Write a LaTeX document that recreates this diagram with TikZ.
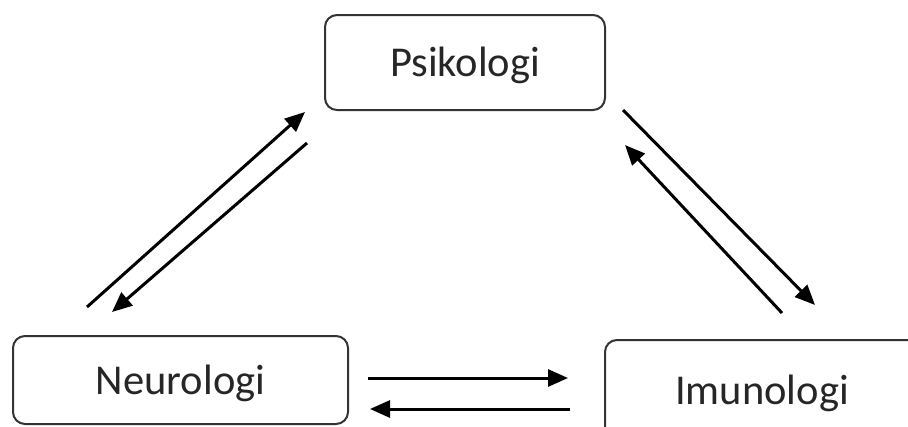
\documentclass[tikz,border=0pt]{standalone}
\usepackage{fontspec}
\setmainfont{Carlito}
\usetikzlibrary{arrows.meta}
\tikzset{
	field/.style={draw=black!80, line width=2pt, rounded corners=12pt, text=black!85, font=\fontsize{42.5}{48}\selectfont, inner sep=0pt, text height=28pt, text depth=0pt},
	link/.style={line width=3pt, -{Triangle[length=20pt, width=17pt]}}
}

\begin{document}
\begin{tikzpicture}[x=1pt, y=-1pt]
		%%%%% START %%%%%
		\useasboundingbox (0, 0) rectangle (908, 426);
		
		\node[field, minimum width=280pt, minimum height=95pt] (psi) at (465, 62.5) {Psikologi};
		\node[field, minimum width=335pt, minimum height=88pt] (neu) at (180.5, 380) {Neurologi};
		\node[field, minimum width=314pt, minimum height=100pt] (imu) at (762, 390) {Imunologi};
		
		% neurologi <-> psikologi
		\coordinate (np1) at (87, 307);
		\coordinate (np2) at (305, 112);
		\coordinate (pn1) at (307, 143);
		\coordinate (pn2) at (112, 312);
		\draw[link] (np1) -- (np2);
		\draw[link] (pn1) -- (pn2);
		
		% psikologi <-> imunologi
		\coordinate (pi1) at (623, 110);
		\coordinate (pi2) at (815, 305);
		\coordinate (ip1) at (782, 313);
		\coordinate (ip2) at (625, 145);
		\draw[link] (pi1) -- (pi2);
		\draw[link] (ip1) -- (ip2);
		
		% neurologi <-> imunologi
		\coordinate (ni1) at (368, 378);
		\coordinate (ni2) at (568, 378);
		\coordinate (in1) at (570, 409);
		\coordinate (in2) at (370, 409);
		\draw[link] (ni1) -- (ni2);
		\draw[link] (in1) -- (in2);
		
		%%%%% END %%%%%
\end{tikzpicture}
\end{document}
